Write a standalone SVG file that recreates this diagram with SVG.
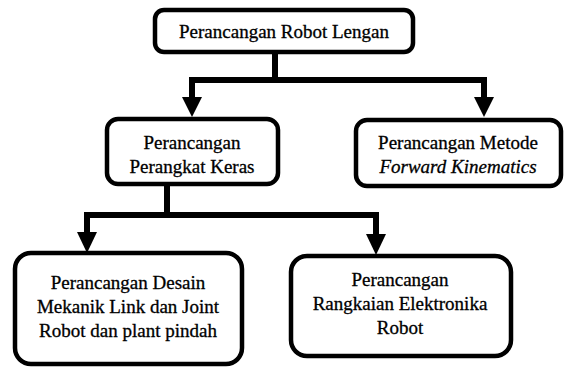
<svg xmlns="http://www.w3.org/2000/svg" width="565" height="368" viewBox="0 0 565 368">
<style>
.box{fill:#fff;stroke:#000;stroke-width:4.5}
.ln{fill:none;stroke:#000;stroke-width:6;stroke-linejoin:miter;stroke-linecap:butt}
.ah{fill:#000}
.t{font-family:'Liberation Serif','Times New Roman',serif;font-size:19px;fill:#000;stroke:#000;stroke-width:0.3;text-anchor:middle}
.it{font-style:italic}
</style>
<rect width="565" height="368" fill="#fff"/>
<g id="connectors">
<path class="ln" d="M275 52 V80 M192 100 V80 H484 V100"/>
<polygon class="ah" points="182,97 202,97 192,117"/>
<polygon class="ah" points="474,97 494,97 484,117"/>
<path class="ln" d="M167 184 V215 M87 235 V215 H376 V235"/>
<polygon class="ah" points="77,232 97,232 87,253"/>
<polygon class="ah" points="366,234 386,234 376,255"/>
</g>
<g id="n-root">
<rect class="box" x="155" y="10" width="258" height="42" rx="9"/>
<text class="t" x="284" y="38">Perancangan Robot Lengan</text>
</g>
<g id="n-hw">
<rect class="box" x="107" y="119" width="171" height="65" rx="11"/>
<text class="t" x="192" y="149">Perancangan</text>
<text class="t" x="192" y="173">Perangkat Keras</text>
</g>
<g id="n-fk">
<rect class="box" x="356" y="120" width="205" height="66" rx="11"/>
<text class="t" x="458" y="149">Perancangan Metode</text>
<text class="t it" x="458" y="173">Forward Kinematics</text>
</g>
<g id="n-mech">
<rect class="box" x="15" y="253" width="227" height="111" rx="16"/>
<text class="t" x="128" y="289">Perancangan Desain</text>
<text class="t" x="128" y="313">Mekanik Link dan Joint</text>
<text class="t" x="128" y="337">Robot dan plant pindah</text>
</g>
<g id="n-elec">
<rect class="box" x="291" y="256" width="220" height="100" rx="16"/>
<text class="t" x="400" y="286">Perancangan</text>
<text class="t" x="400" y="310">Rangkaian Elektronika</text>
<text class="t" x="400" y="334">Robot</text>
</g>
</svg>
